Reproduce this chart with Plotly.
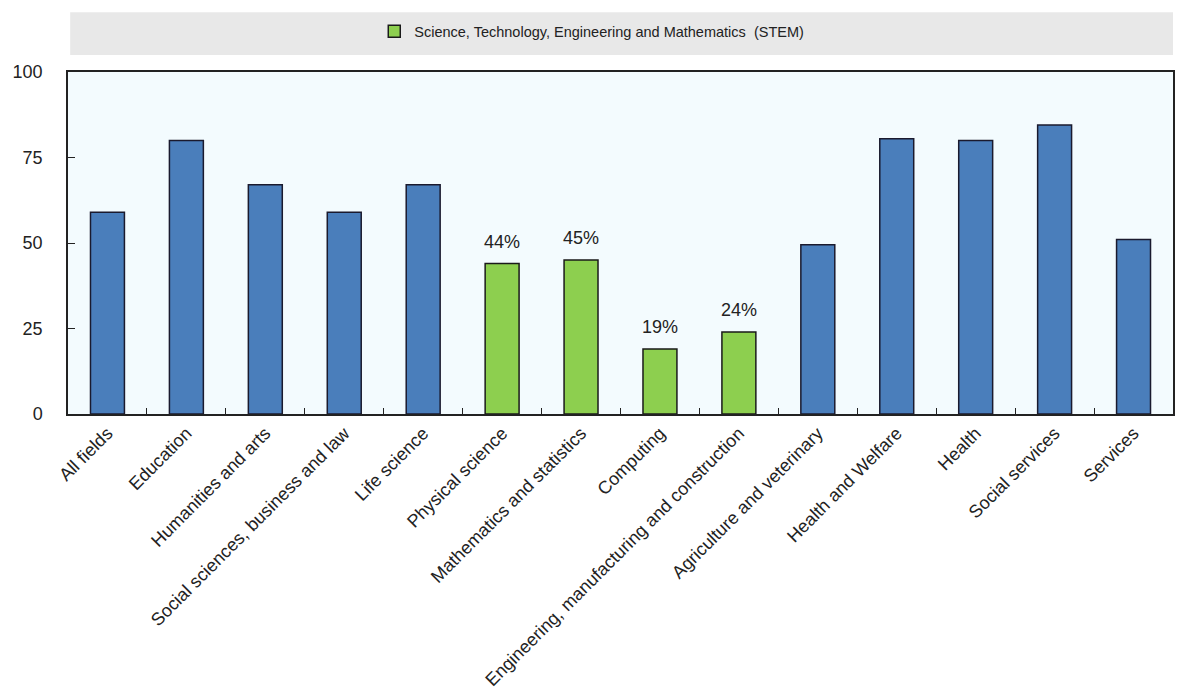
import plotly.graph_objects as go

categories = ["All fields", "Education", "Humanities and arts", "Social sciences, business and law",
              "Life science", "Physical science", "Mathematics and statistics", "Computing",
              "Engineering, manufacturing and construction",
              "Agriculture and veterinary", "Health and Welfare", "Health", "Social services", "Services"]
values = [59, 80, 67, 59, 67, 44, 45, 19, 24, 49.5, 80.5, 80, 84.5, 51]
stem = [False, False, False, False, False, True, True, True, True, False, False, False, False, False]
legend_label = "Science, Technology, Engineering and Mathematics  (STEM)"

blue = "#4A7EBB"
green = "#8DCF4F"

other_x = [c for c, s in zip(categories, stem) if not s]
other_y = [v for v, s in zip(values, stem) if not s]
stem_x = [c for c, s in zip(categories, stem) if s]
stem_y = [v for v, s in zip(values, stem) if s]

fig = go.Figure()
fig.add_trace(go.Bar(x=other_x, y=other_y, marker=dict(color=blue, line=dict(color="#1a1a2e", width=1.5)),
                     width=0.43, showlegend=False, hoverinfo="x+y"))
fig.add_trace(go.Bar(x=stem_x, y=stem_y, name=legend_label,
                     marker=dict(color=green, line=dict(color="#1a1a1a", width=1.5)),
                     width=0.43))

annotations = [dict(x=x, y=y, text=f"{y:.0f}%", showarrow=False, yanchor="bottom", yshift=10,
                    font=dict(size=18, color="#222"))
               for x, y in zip(stem_x, stem_y)]

fig.update_layout(
    width=1179, height=696,
    barmode="overlay",
    margin=dict(l=68, r=4, t=72, b=282),
    paper_bgcolor="white",
    plot_bgcolor="#F3FBFE",
    font=dict(family="Liberation Sans, Arial, sans-serif", size=16, color="#222"),
    legend=dict(orientation="h", x=0.474, xanchor="center", y=0.978, yref="container", yanchor="top",
                bgcolor="rgba(0,0,0,0)", font=dict(size=14.5)),
    xaxis=dict(categoryorder="array", categoryarray=categories, tickangle=-45,
               ticks="inside", tickson="boundaries", ticklen=6, tickcolor="#222",
               showline=True, linecolor="#222", linewidth=1.5, mirror=True,
               showgrid=False, tickfont=dict(size=18)),
    yaxis=dict(range=[0, 100], tickvals=[0, 25, 50, 75, 100], ticks="inside", ticklen=7,
               tickcolor="#222", showline=True, linecolor="#222", linewidth=1.5, mirror=True,
               showgrid=False, zeroline=False, tickfont=dict(size=18), ticklabelstandoff=20),
    annotations=annotations,
    shapes=[dict(type="rect", xref="paper", yref="paper", x0=0.002, x1=1.0,
                 y0=1.05, y1=1.175, fillcolor="#E8E8E8", line=dict(width=0), layer="below")],
)

fig.write_html("out.html")
